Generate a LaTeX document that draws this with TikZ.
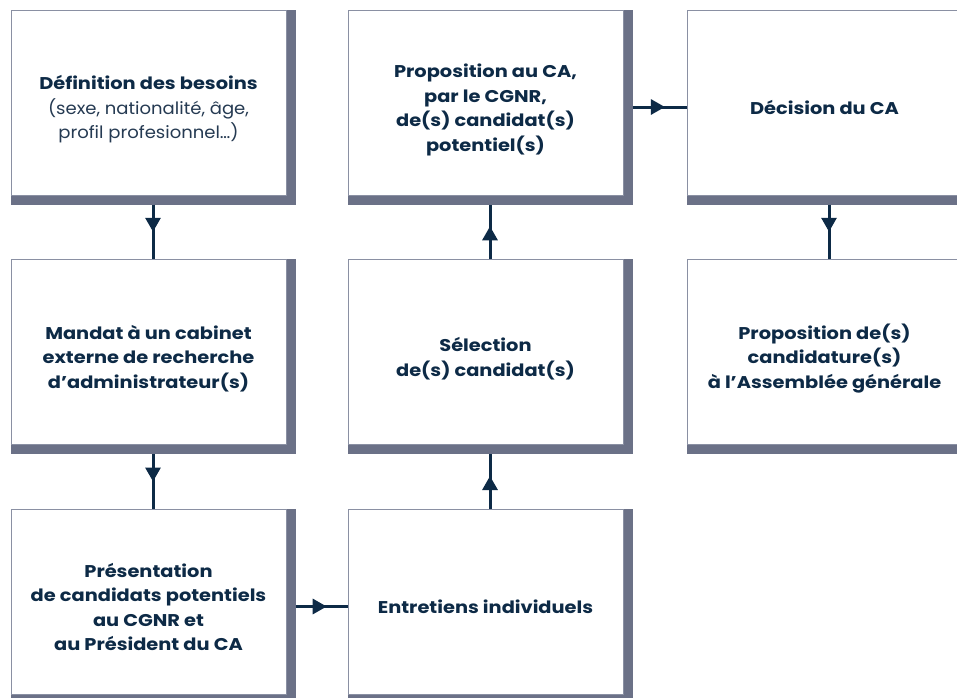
\documentclass[tikz,border=0pt]{standalone}
\usepackage{fontspec}
\setmainfont{Poppins}[BoldFeatures={FakeStretch=1.14}]
\newfontfamily\regfont{Poppins}[FakeStretch=1.06]
\usetikzlibrary{arrows.meta,decorations.markings,backgrounds}
\definecolor{navy}{HTML}{0D2A46}
\definecolor{softnavy}{HTML}{253A52}
\definecolor{shadowc}{HTML}{6B7187}
\definecolor{borderc}{HTML}{8A90A3}
\newcommand{\boxtxt}[1]{\raisebox{-7pt}[\height][\depth]{\begin{tabular}{@{}c@{}}#1\end{tabular}}}
\tikzset{
  stepbox/.style={draw=borderc, line width=1pt, fill=white, minimum width=275pt,
    minimum height=185pt, inner sep=0pt, text=navy,
    font=\fontsize{17}{24.5}\selectfont\bfseries},
  arr/.style={navy, line width=3pt, postaction={decorate},
    decoration={markings, mark=at position #1 with {\arrow{Triangle[length=14pt,width=15pt]}}}},
  boxshadow/.style={fill=shadowc},
}
\begin{document}
\begin{tikzpicture}[x=1pt,y=-1pt]
\useasboundingbox (0,0) rectangle (957,697);
\node[stepbox] (a) at (148.5,102.5) {\boxtxt{Définition des besoins\\{\regfont\mdseries\color{softnavy}(sexe, nationalité, âge,}\\{\regfont\mdseries\color{softnavy}profil profesionnel…)}}};
\node[stepbox] (b) at (485.5,102.5) {\boxtxt{Proposition au CA,\\par le CGNR,\\de(s) candidat(s)\\potentiel(s)}};
\node[stepbox] (c) at (824.5,102.5) {\boxtxt{Décision du CA}};
\node[stepbox] (d) at (148.5,352) {\boxtxt{Mandat à un cabinet\\externe de recherche\\d’administrateur(s)}};
\node[stepbox] (e) at (485.5,352) {\boxtxt{Sélection\\de(s) candidat(s)}};
\node[stepbox] (f) at (824.5,352) {\boxtxt{Proposition de(s)\\candidature(s)\\à l’Assemblée générale}};
\node[stepbox] (g) at (148.5,602) {\boxtxt{Présentation\\de candidats potentiels\\au CGNR et\\au Président du CA}};
\node[stepbox] (h) at (485.5,602) {\boxtxt{Entretiens individuels}};
\begin{scope}[on background layer]
  \foreach \n in {a,b,c,d,e,f,g,h}
    \fill[boxshadow] (\n.north west) rectangle ([shift={(9,9)}]\n.south east);
\end{scope}
\draw[arr=0.5] ([shift={(4.5,9)}]a.south) -- ([shift={(4.5,0)}]d.north);
\draw[arr=0.5] ([shift={(4.5,9)}]d.south) -- ([shift={(4.5,0)}]g.north);
\draw[arr=0.6] ([shift={(9,4.5)}]g.east) -- ([shift={(0,4.5)}]h.west);
\draw[arr=0.6] ([shift={(4.5,0)}]h.north) -- ([shift={(4.5,9)}]e.south);
\draw[arr=0.6] ([shift={(4.5,0)}]e.north) -- ([shift={(4.5,9)}]b.south);
\draw[arr=0.6] ([shift={(9,4.5)}]b.east) -- ([shift={(0,4.5)}]c.west);
\draw[arr=0.5] ([shift={(4.5,9)}]c.south) -- ([shift={(4.5,0)}]f.north);
\end{tikzpicture}
\end{document}
